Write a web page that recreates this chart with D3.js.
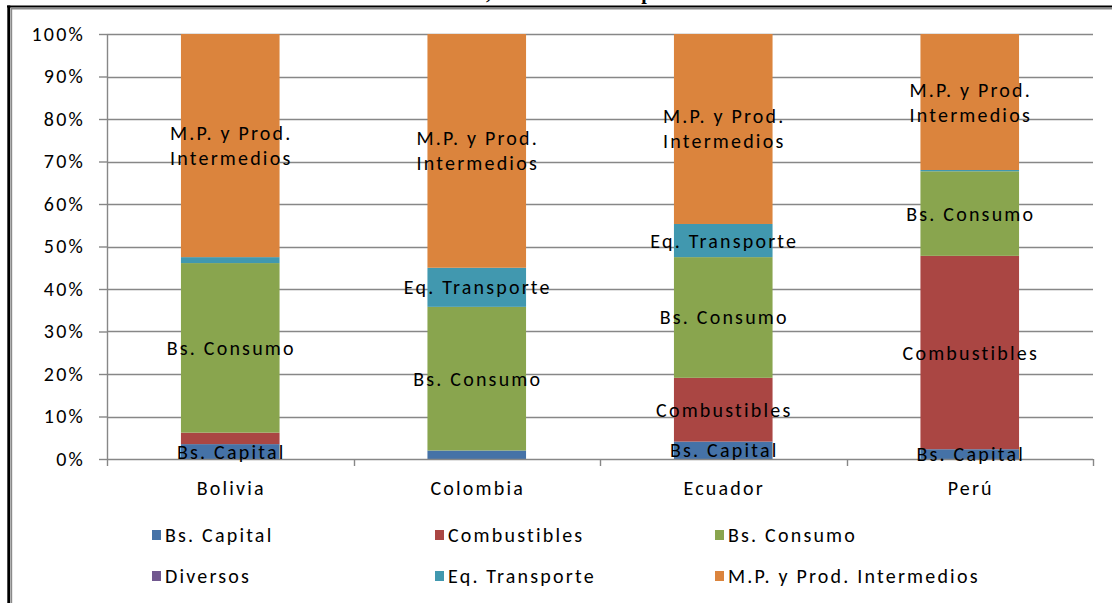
<!DOCTYPE html>
<html>
<head>
<meta charset="utf-8">
<script src="https://cdn.jsdelivr.net/npm/d3@7"></script>
<style>
    html, body { margin: 0; padding: 0; background: #fff; }
    svg { display: block; }
    text { font-family: Carlito, Lato, "Open Sans", sans-serif; fill: #000; }
    .lbl { font-size: 20px; letter-spacing: 2.2px; }
</style>
</head>
<body>
<div id="chart"></div>
<script>
// Categories (countries)
const categories = ["Bolivia", "Colombia", "Ecuador", "Perú"];

// Series names, stacked bottom to top
const seriesNames = ["Bs. Capital", "Combustibles", "Bs. Consumo", "Diversos", "Eq. Transporte", "M.P. y Prod. Intermedios"];

// Share of each series per country (%)
const bsCapital     = [3.5, 2.0, 4.1, 2.3];
const combustibles  = [2.7, 0.0, 15.0, 45.5];
const bsConsumo     = [39.9, 33.8, 28.4, 19.9];
const diversos      = [0.0, 0.0, 0.0, 0.0];
const eqTransporte  = [1.4, 9.2, 7.8, 0.3];
const mpIntermedios = [52.5, 55.0, 44.7, 32.0];

// Which segments carry a data label
const labelCapital    = [true, false, true, true];
const labelCombust    = [false, false, true, true];
const labelConsumo    = [true, true, true, true];
const labelDiversos   = [false, false, false, false];
const labelTransporte = [false, true, true, false];
const labelMP         = [true, true, true, true];

// Y axis ticks
const yTicks = [0, 10, 20, 30, 40, 50, 60, 70, 80, 90, 100];

const colors = ["#4572A7", "#AA4643", "#89A54E", "#71588F", "#4198AF", "#DB843D"];

const W = 1112, H = 603;
const plot = { left: 107, right: 1093, top: 34, bottom: 459 };

// Build table for d3.stack
const seriesValues = [bsCapital, combustibles, bsConsumo, diversos, eqTransporte, mpIntermedios];
const seriesLabels = [labelCapital, labelCombust, labelConsumo, labelDiversos, labelTransporte, labelMP];
const table = categories.map(function (c, i) {
    const row = { country: c };
    seriesNames.forEach(function (s, k) { row[s] = seriesValues[k][i]; });
    return row;
});

const svg = d3.select("#chart").append("svg")
    .attr("width", W)
    .attr("height", H);

// Frame (outer border of the pasted chart)
svg.append("line").attr("x1", 7).attr("x2", W).attr("y1", 6.5).attr("y2", 6.5)
    .attr("stroke", "#000").attr("stroke-width", 2);
svg.append("line").attr("x1", 11).attr("x2", W).attr("y1", 8.8).attr("y2", 8.8)
    .attr("stroke", "#8a8a8a").attr("stroke-width", 1.4);
svg.append("line").attr("x1", 8.8).attr("x2", 8.8).attr("y1", 5.5).attr("y2", H)
    .attr("stroke", "#000").attr("stroke-width", 3);
svg.append("line").attr("x1", 11.6).attr("x2", 11.6).attr("y1", 8).attr("y2", H)
    .attr("stroke", "#8a8a8a").attr("stroke-width", 1.2);

// Title, cut off at the top edge (only descenders show)
const title = svg.append("g")
    .style("font-size", "20px")
    .style("font-weight", "bold");
title.append("text").attr("x", 491).attr("y", -1).attr("text-anchor", "end")
    .style("font-family", "'Liberation Serif', serif").text("Comercio exterior andino,");
title.append("text").attr("x", 498).attr("y", -1)
    .style("font-family", "'Liberation Serif', serif").text("año 2010 -");
title.append("text").attr("x", 619).attr("y", -1)
    .style("font-family", "'Liberation Serif', serif").text("importaciones totales");

// Scales
const x = d3.scaleBand()
    .domain(categories)
    .range([plot.left, plot.right])
    .padding(0);
const barW = x.bandwidth() * 0.4;

const y = d3.scaleLinear()
    .domain([0, 100])
    .range([plot.bottom, plot.top]);

// Gridlines
svg.append("g")
    .selectAll("line")
    .data(yTicks.filter(function (t) { return t > 0; }))
    .enter().append("line")
        .attr("x1", plot.left)
        .attr("x2", plot.right)
        .attr("y1", function (d) { return Math.round(y(d)) + 0.5; })
        .attr("y2", function (d) { return Math.round(y(d)) + 0.5; })
        .attr("stroke", "#878787")
        .attr("stroke-width", 1.4);

// Y axis
const yAxis = svg.append("g")
    .attr("transform", "translate(" + plot.left + ",0)")
    .call(d3.axisLeft(y)
        .tickValues(yTicks)
        .tickSize(8)
        .tickPadding(14)
        .tickFormat(function (d) { return d + "%"; }));
yAxis.select(".domain").attr("stroke", "#878787").attr("stroke-width", 1.4).attr("d", "M0.5," + plot.top + "V" + plot.bottom);
yAxis.selectAll(".tick line").attr("stroke", "#878787").attr("stroke-width", 1.4);
yAxis.selectAll(".tick text")
    .attr("class", "lbl")
    .attr("font-size", null)
    .attr("font-family", null)
    .attr("fill", "#000");
yAxis.attr("font-size", null).attr("font-family", null);

// Stacked bars
const stack = d3.stack().keys(seriesNames);
const stacked = stack(table);

const layers = svg.append("g")
    .selectAll("g")
    .data(stacked)
    .enter().append("g")
        .attr("fill", function (d, i) { return colors[i]; });

layers.selectAll("rect")
    .data(function (d) { return d; })
    .enter().append("rect")
        .attr("x", function (d) { return x(d.data.country) + (x.bandwidth() - barW) / 2; })
        .attr("width", barW)
        .attr("y", function (d) { return y(d[1]); })
        .attr("height", function (d) { return y(d[0]) - y(d[1]); });

// X axis
const xAxis = svg.append("g")
    .attr("transform", "translate(0," + plot.bottom + ")");
xAxis.append("line")
    .attr("x1", plot.left).attr("x2", plot.right)
    .attr("y1", 0.5).attr("y2", 0.5)
    .attr("stroke", "#878787").attr("stroke-width", 1.4);
const boundaries = categories.map(function (c) { return x(c); }).concat([plot.right]);
xAxis.selectAll(".xt")
    .data(boundaries)
    .enter().append("line")
        .attr("class", "xt")
        .attr("x1", function (d) { return Math.round(d) + 0.5; })
        .attr("x2", function (d) { return Math.round(d) + 0.5; })
        .attr("y1", 0).attr("y2", 7)
        .attr("stroke", "#878787").attr("stroke-width", 1.4);
xAxis.selectAll(".xl")
    .data(categories)
    .enter().append("text")
        .attr("class", "lbl")
        .attr("x", function (d) { return x(d) + x.bandwidth() / 2 + 1; })
        .attr("y", 36)
        .attr("text-anchor", "middle")
        .text(function (d) { return d; });

// Data labels
const labelG = svg.append("g");
stacked.forEach(function (layer, k) {
    layer.forEach(function (d, i) {
        if (!seriesLabels[k][i]) return;
        const cx = x(d.data.country) + x.bandwidth() / 2 + 1;
        const cy = (y(d[0]) + y(d[1])) / 2;
        const name = seriesNames[k];
        const t = labelG.append("text")
            .attr("class", "lbl")
            .attr("text-anchor", "middle");
        if (name === "M.P. y Prod. Intermedios") {
            t.append("tspan").attr("x", cx).attr("y", cy - 12.5).attr("dy", "0.35em").text("M.P. y Prod.");
            t.append("tspan").attr("x", cx).attr("y", cy + 12.5).attr("dy", "0.35em").text("Intermedios");
        } else {
            t.attr("x", cx).attr("y", cy).attr("dy", "0.35em").text(name);
        }
    });
});

// Legend
const legendX = [152, 435, 715];
const legendY = [535, 576];
const legend = svg.append("g")
    .selectAll("g")
    .data(seriesNames)
    .enter().append("g")
        .attr("transform", function (d, i) {
            return "translate(" + legendX[i % 3] + "," + legendY[Math.floor(i / 3)] + ")";
        });
legend.append("rect")
    .attr("x", 0).attr("y", -5)
    .attr("width", 9).attr("height", 10)
    .attr("fill", function (d, i) { return colors[i]; });
legend.append("text")
    .attr("class", "lbl")
    .attr("x", 13)
    .attr("y", 0)
    .attr("dy", "0.35em")
    .text(function (d) { return d; });
</script>
</body>
</html>
